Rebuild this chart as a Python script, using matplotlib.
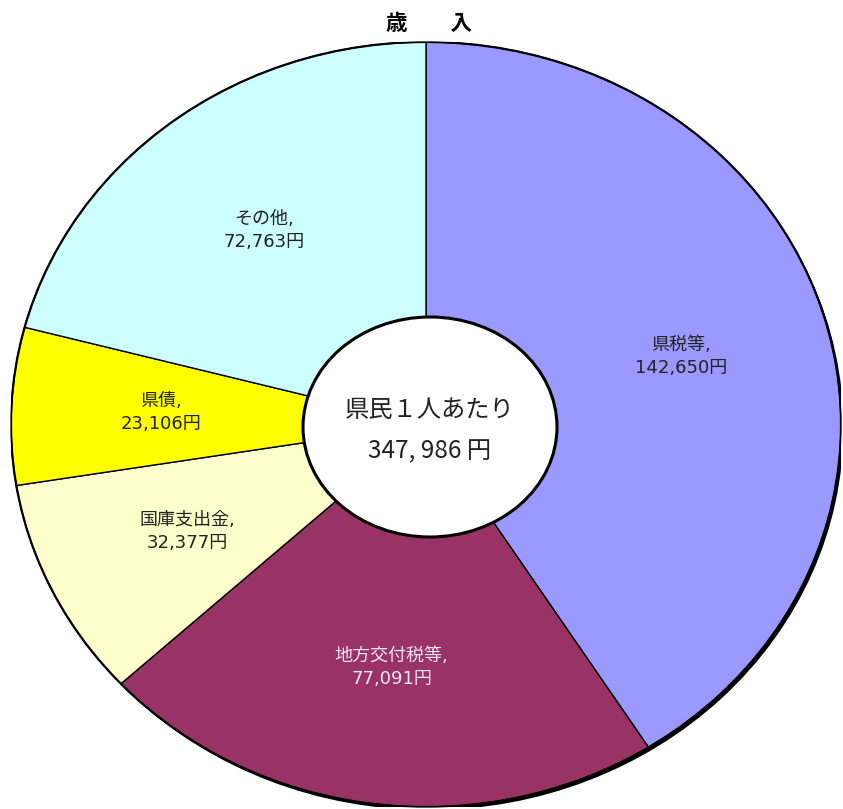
import matplotlib
matplotlib.use("Agg")
import matplotlib.pyplot as plt
from matplotlib.patches import Ellipse

plt.rcParams['font.family'] = ['Noto Sans CJK JP', 'DejaVu Sans']

# 歳入（県民1人あたり, 円）
categories = ['県税等', '地方交付税等', '国庫支出金', '県債', 'その他']
values = [142650, 77091, 32377, 23106, 72763]
colors = ['#9999FF', '#993366', '#FFFFCC', '#FFFF00', '#CCFFFF']
label_colors = ['#222222', '#F4E6F0', '#222222', '#222222', '#222222']
title = '歳\u3000\u3000入'
center_lines = ['県民１人あたり', '347, 986 円']

W, H = 843, 809
fig = plt.figure(figsize=(W / 100, H / 100), dpi=100)
fig.patch.set_facecolor('white')

# axes box spans the outer ellipse of the pie
cx, cy, rx, ry = 426, 424.5, 415, 382.5
ax = fig.add_axes([(cx - rx) / W, (H - cy - ry) / H, 2 * rx / W, 2 * ry / H])

# drop shadow toward lower right
ax.add_patch(Ellipse((0.006, -0.008), 2.0, 2.0, facecolor='black',
                     edgecolor='none', zorder=0))

labels = [f'{c},\n{v:,}円' for c, v in zip(categories, values)]
wedges, texts = ax.pie(values, colors=colors, startangle=90, counterclock=False,
                       labels=labels, labeldistance=0.64,
                       wedgeprops=dict(edgecolor='black', linewidth=1.0))
for t, col in zip(texts, label_colors):
    t.set_ha('center')
    t.set_va('center')
    t.set_fontsize(13)
    t.set_fontfamily(['DejaVu Sans', 'Noto Sans CJK JP'])
    t.set_color(col)
    t.set_linespacing(1.35)

# outer outline
ax.add_patch(Ellipse((0, 0), 2.0, 2.0, facecolor='none', edgecolor='black',
                     linewidth=1.6, zorder=5))

# white centre disc
ax.add_patch(Ellipse(((430 - cx) / rx, (cy - 427) / ry), 254 / rx, 220 / ry,
                     facecolor='white', edgecolor='black', linewidth=2.2, zorder=6))
ax.text((430 - cx) / rx, (cy - 410) / ry, center_lines[0], ha='center', va='center',
        fontsize=17.5, color='#222222', zorder=7)
ax.text((430 - cx) / rx, (cy - 451) / ry, center_lines[1], ha='center', va='center',
        fontsize=17.5, color='#222222', zorder=7)

ax.set_aspect('auto')
ax.set_xlim(-1, 1)
ax.set_ylim(-1, 1)
ax.axis('off')

fig.text(429 / W, 1 - 23 / H, title, ha='center', va='center',
         fontsize=15.5, fontweight='bold', color='black')

fig.savefig('out.png', dpi=100, facecolor='white')
